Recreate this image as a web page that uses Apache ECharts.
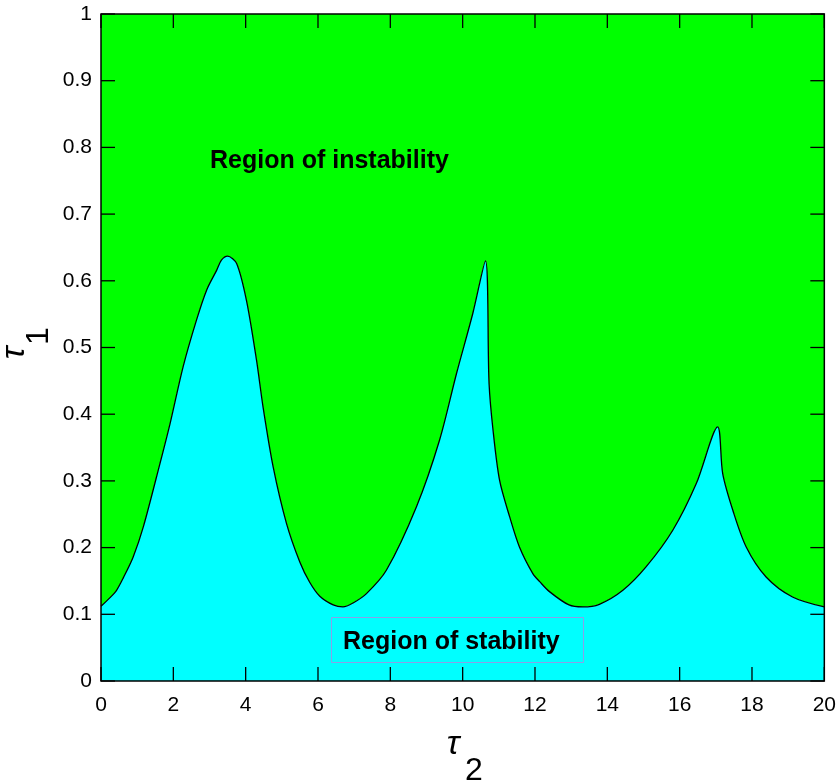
<!DOCTYPE html>
<html>
<head>
<meta charset="utf-8">
<script src="https://cdn.jsdelivr.net/npm/echarts@6/dist/echarts.min.js"></script>
<style>html,body{margin:0;padding:0;background:#fff}#c{width:839px;height:783px}</style>
</head>
<body>
<div id="c"></div>
<script>
// Boundary between stability and instability regions (tau2, tau1)
var tau2 = [0, 0.25, 0.43, 0.62, 0.89, 1.17, 1.63, 1.91, 2.27, 2.64, 2.92, 3.2, 3.33, 3.5, 3.75, 4.02, 4.3, 4.48, 4.76, 5.13, 5.5, 5.77, 6.05, 6.42, 6.69, 6.97, 7.34, 7.89, 8.72, 9.36, 9.83, 10.28, 10.63, 10.73, 10.84, 11.02, 11.3, 11.57, 11.94, 12.13, 12.4, 12.94, 13.32, 13.78, 14.43, 15.07, 15.81, 16.46, 17.05, 17.19, 17.47, 17.84, 18.39, 19.12, 20];
var tau1 = [0.112, 0.125, 0.136, 0.155, 0.186, 0.231, 0.326, 0.386, 0.471, 0.541, 0.586, 0.616, 0.631, 0.637, 0.626, 0.571, 0.481, 0.411, 0.321, 0.236, 0.178, 0.148, 0.127, 0.114, 0.111, 0.117, 0.131, 0.166, 0.261, 0.361, 0.461, 0.551, 0.630, 0.446, 0.376, 0.301, 0.246, 0.201, 0.161, 0.149, 0.134, 0.114, 0.111, 0.115, 0.136, 0.171, 0.226, 0.296, 0.381, 0.311, 0.256, 0.201, 0.156, 0.126, 0.111];
var xTicks = [0, 2, 4, 6, 8, 10, 12, 14, 16, 18, 20];
var yTicks = [0, 0.1, 0.2, 0.3, 0.4, 0.5, 0.6, 0.7, 0.8, 0.9, 1];
var regionLabels = ['Region of instability', 'Region of stability'];

var FONT = '"Liberation Sans", Arial, Helvetica, sans-serif';
var chart = echarts.init(document.getElementById('c'), null, {renderer: 'canvas'});
var data = tau2.map(function (x, i) { return [x, tau1[i]]; });
var X0 = xTicks[0], X1 = xTicks[xTicks.length - 1];
var Y0 = yTicks[0], Y1 = yTicks[yTicks.length - 1];
var TL = 7;

function yFmt(v) { return String(Math.round(v * 10) / 10); }
function line() { return {show: false, onZero: false}; }
function tickSeries(points, size, offset) {
  return {
    type: 'scatter', data: points, symbol: 'rect', symbolSize: size, symbolOffset: offset,
    itemStyle: {color: '#000', opacity: 1}, silent: true, clip: false, z: 10,
    emphasis: {disabled: true}
  };
}

chart.setOption({
  animation: false,
  backgroundColor: '#ffffff',
  grid: {left: 101, right: 13, top: 14, bottom: 102, show: true, backgroundColor: 'transparent', borderColor: '#000', borderWidth: 1.5, z: 6},
  xAxis: {type: 'value', min: X0, max: X1, interval: 2, position: 'bottom',
     splitLine: {show: false}, axisLine: line(), axisTick: {show: false},
     axisLabel: {color: '#000', fontSize: 21, fontFamily: FONT, margin: 14}},
  yAxis: {type: 'value', min: Y0, max: Y1, interval: 0.1, position: 'left',
     splitLine: {show: false}, axisLine: line(), axisTick: {show: false},
     axisLabel: {color: '#000', fontSize: 21, fontFamily: FONT, margin: 9, formatter: yFmt}},
  series: [{
    // region of instability: above the boundary
    type: 'line',
    data: data,
    showSymbol: false,
    symbol: 'none',
    smooth: 0.3,
    lineStyle: {width: 0, opacity: 0},
    areaStyle: {color: '#00ff00', opacity: 1, origin: 'end'},
    z: 1
  }, {
    // region of stability: below the boundary
    type: 'line',
    data: data,
    showSymbol: false,
    symbol: 'none',
    smooth: 0.3,
    lineStyle: {color: '#000', width: 1.3},
    areaStyle: {color: '#00ffff', opacity: 1, origin: 'start'},
    z: 2
  },
  // inward ticks on all four edges
  tickSeries(xTicks.map(function (v) { return [v, Y0]; }), [1.3, TL * 2], [0, -TL / 2 - 3.5]),
  tickSeries(xTicks.map(function (v) { return [v, Y1]; }), [1.3, TL * 2], [0, TL / 2 + 3.5]),
  tickSeries(yTicks.map(function (v) { return [X0, v]; }), [TL * 2, 1.3], [TL / 2 + 3.5, 0]),
  tickSeries(yTicks.map(function (v) { return [X1, v]; }), [TL * 2, 1.3], [-TL / 2 - 3.5, 0])
  ],
  graphic: [
    {type: 'text', left: 210, top: 149, z: 10,
     style: {text: regionLabels[0], font: 'bold 25px ' + FONT, fill: '#000'}},
    {type: 'rect', shape: {x: 331.5, y: 617.5, width: 252, height: 45}, z: 9,
     style: {fill: 'none', stroke: '#8aa0e8', lineWidth: 1}},
    {type: 'text', left: 343, top: 630, z: 10,
     style: {text: regionLabels[1], font: 'bold 25px ' + FONT, fill: '#000'}},
    // x-axis name: tau_2
    {type: 'text', x: 453, y: 762, z: 10,
     style: {text: 'τ', font: 'italic 34px ' + FONT, fill: '#000', textAlign: 'center', textVerticalAlign: 'bottom'}},
    {type: 'text', x: 474, y: 787, z: 10,
     style: {text: '2', font: '32px ' + FONT, fill: '#000', textAlign: 'center', textVerticalAlign: 'bottom'}},
    // y-axis name: tau_1
    {type: 'text', x: 32, y: 353, rotation: Math.PI / 2, z: 10,
     style: {text: 'τ', font: 'italic 34px ' + FONT, fill: '#000', textAlign: 'center', textVerticalAlign: 'bottom'}},
    {type: 'text', x: 55, y: 336, rotation: Math.PI / 2, z: 10,
     style: {text: '1', font: '32px ' + FONT, fill: '#000', textAlign: 'center', textVerticalAlign: 'bottom'}}
  ]
});
</script>
</body>
</html>
